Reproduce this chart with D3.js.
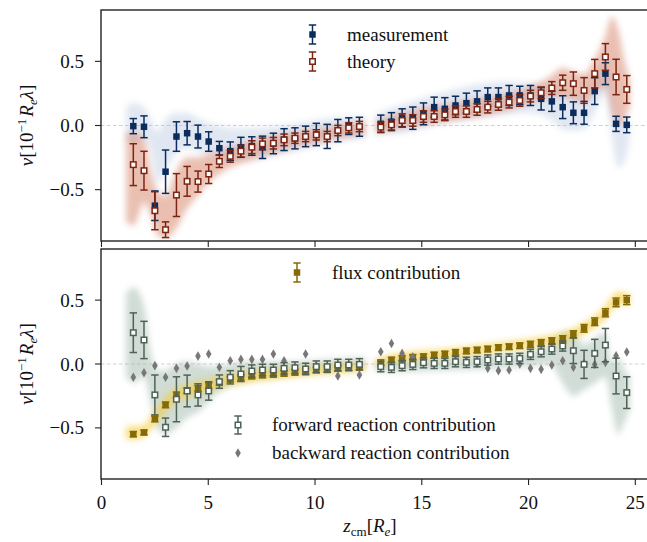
<!DOCTYPE html>
<html>
<head>
<meta charset="utf-8">
<script src="https://cdn.jsdelivr.net/npm/d3@7"></script>
<style>
  body { margin: 0; background: #fff; }
  svg { display: block; font-family: 'Liberation Serif', 'DejaVu Serif', serif; }
  .tick-label { font-size: 19px; fill: #111; }
  .legend-label { font-size: 19px; fill: #111; }
  .axis-label { font-size: 19px; fill: #111; }
</style>
</head>
<body>
<svg width="647" height="542"></svg>
<script>
const svg = d3.select('svg');

// bin centres along z_cm
const binZ = [1.49, 1.99, 2.50, 3.00, 3.51, 4.01, 4.52, 5.02, 5.52, 6.03, 6.53, 7.04, 7.54, 8.05, 8.55,
  9.06, 9.56, 10.06, 10.57, 11.07, 11.58, 12.08,
  13.08, 13.58, 14.08, 14.58, 15.08, 15.58, 16.08, 16.58, 17.09, 17.59, 18.09, 18.59, 19.09, 19.59,
  20.09, 20.59, 21.09, 21.60, 22.10, 22.60, 23.10, 23.60, 24.10, 24.60];

// top panel
const measurement = [-0.005, -0.01, -0.625, -0.36, -0.086, -0.06, -0.086, -0.125, -0.177, -0.20, -0.17,
  -0.16, -0.17, -0.14, -0.11, -0.10, -0.085, -0.07, -0.085, -0.04, -0.005, -0.01,
  0.013, 0.03, 0.06, 0.057, 0.091, 0.143, 0.13, 0.156, 0.174, 0.188, 0.221, 0.221, 0.234, 0.234,
  0.234, 0.208, 0.188, 0.143, 0.099, 0.099, 0.268, 0.404, 0.013, 0.005];
const measurementErr = [0.059, 0.085, 0.115, 0.169, 0.115, 0.091, 0.089, 0.076, 0.053, 0.072, 0.078,
  0.072, 0.087, 0.08, 0.085, 0.082, 0.08, 0.087, 0.094, 0.087, 0.065, 0.074,
  0.068, 0.07, 0.07, 0.087, 0.085, 0.078, 0.087, 0.072, 0.078, 0.082, 0.072, 0.072, 0.078, 0.072,
  0.078, 0.087, 0.078, 0.089, 0.085, 0.089, 0.104, 0.085, 0.059, 0.061];
const theory = [-0.305, -0.352, -0.664, -0.812, -0.542, -0.435, -0.437, -0.378, -0.279, -0.24, -0.2,
  -0.169, -0.143, -0.138, -0.112, -0.099, -0.086, -0.073, -0.086, -0.039, -0.018, -0.008,
  -0.013, 0.005, 0.039, 0.039, 0.07, 0.07, 0.083, 0.109, 0.109, 0.125, 0.143, 0.164, 0.182, 0.195,
  0.229, 0.255, 0.292, 0.333, 0.326, 0.273, 0.404, 0.534, 0.378, 0.281];
const theoryErr = [0.163, 0.151, 0.148, 0.061, 0.167, 0.116, 0.082, 0.074, 0.048, 0.046, 0.046,
  0.05, 0.045, 0.045, 0.045, 0.04, 0.04, 0.04, 0.04, 0.04, 0.04, 0.04,
  0.039, 0.04, 0.052, 0.045, 0.045, 0.045, 0.045, 0.045, 0.045, 0.045, 0.045, 0.045, 0.045, 0.045,
  0.045, 0.045, 0.05, 0.059, 0.091, 0.1, 0.111, 0.104, 0.138, 0.108];

// bottom panel
const flux = [-0.549, -0.536, -0.43, -0.32, -0.242, -0.208, -0.19, -0.169, -0.146, -0.12, -0.104,
  -0.094, -0.086, -0.081, -0.073, -0.065, -0.055, -0.047, -0.039, -0.034, -0.026, -0.021,
  0.01, 0.031, 0.044, 0.052, 0.057, 0.07, 0.078, 0.091, 0.102, 0.109, 0.117, 0.128, 0.135, 0.143,
  0.154, 0.167, 0.18, 0.195, 0.232, 0.279, 0.331, 0.401, 0.482, 0.5];
const fluxErr = [0.02, 0.018, 0.022, 0.022, 0.022, 0.022, 0.022, 0.022, 0.022, 0.022, 0.022,
  0.022, 0.022, 0.022, 0.022, 0.022, 0.022, 0.022, 0.022, 0.022, 0.022, 0.022,
  0.022, 0.022, 0.022, 0.022, 0.022, 0.022, 0.022, 0.022, 0.022, 0.022, 0.022, 0.022, 0.022, 0.022,
  0.024, 0.024, 0.025, 0.026, 0.028, 0.03, 0.03, 0.032, 0.034, 0.035];
const forward = [0.245, 0.188, -0.242, -0.495, -0.276, -0.211, -0.242, -0.211, -0.138, -0.104, -0.078,
  -0.055, -0.047, -0.047, -0.034, -0.029, -0.039, -0.021, -0.021, -0.008, -0.008, -0.003,
  -0.021, -0.026, -0.013, -0.003, 0.01, 0.005, 0.005, 0.018, 0.013, 0.018, 0.031, 0.039, 0.039, 0.044,
  0.076, 0.096, 0.117, 0.141, 0.104, -0.003, 0.083, 0.148, -0.094, -0.224];
const forwardErr = [0.155, 0.146, 0.156, 0.072, 0.176, 0.124, 0.087, 0.072, 0.052, 0.052, 0.059,
  0.048, 0.045, 0.045, 0.045, 0.045, 0.045, 0.045, 0.045, 0.045, 0.045, 0.045,
  0.04, 0.04, 0.04, 0.04, 0.04, 0.04, 0.04, 0.04, 0.04, 0.04, 0.04, 0.04, 0.04, 0.04,
  0.04, 0.04, 0.04, 0.04, 0.1, 0.11, 0.11, 0.13, 0.14, 0.124];
const backward = [-0.104, -0.068, -0.013, -0.104, -0.034, -0.016, 0.062, 0.078, -0.026, 0.026, 0.036,
  0.036, 0.036, 0.078, 0.026, -0.034, 0.078, -0.016, -0.034, -0.094, -0.021, -0.086,
  0.096, 0.161, 0.083, 0.057, 0.018, 0.005, 0.018, 0.026, 0.026, 0.005, -0.034, -0.052, -0.047, 0.0,
  -0.034, -0.042, -0.008, 0.026, -0.026, 0.005, -0.003, 0.013, 0.065, 0.094];

// sample clouds: lower / upper envelope at a coarse z grid (two segments)
const cloudZ = [[1.15, 1.5, 2.0, 2.3, 2.6, 3.0, 3.5, 4.0, 4.5, 5.0, 5.5, 6.0, 7.0, 8.0, 9.0, 10.0, 11.0, 12.35],
  [12.85, 14.0, 16.0, 18.0, 19.0, 20.0, 21.0, 21.6, 22.1, 22.6, 23.1, 23.6, 23.9, 24.2, 24.5, 24.75]];
const measCloudLo = [[-0.12, -0.14, -0.1, -0.2, -0.45, -0.35, -0.22, -0.18, -0.2, -0.22, -0.25, -0.27, -0.26, -0.24, -0.2, -0.16, -0.13, -0.09],
  [-0.07, -0.06, 0.02, 0.07, 0.09, 0.1, 0.05, -0.03, -0.04, -0.03, 0.1, 0.25, -0.1, -0.33, -0.28, -0.1]];
const measCloudHi = [[0.14, 0.18, 0.14, 0.05, -0.05, 0.05, 0.1, 0.1, 0.06, 0.02, 0.0, -0.02, -0.02, -0.01, 0.01, 0.04, 0.06, 0.07],
  [0.09, 0.16, 0.26, 0.33, 0.34, 0.33, 0.31, 0.28, 0.24, 0.24, 0.38, 0.48, 0.33, 0.08, 0.05, 0.05]];
const theoCloudLo = [[-0.75, -0.78, -0.6, -0.7, -0.85, -0.88, -0.8, -0.65, -0.55, -0.45, -0.38, -0.33, -0.27, -0.22, -0.17, -0.14, -0.1, -0.08],
  [-0.06, -0.02, 0.03, 0.08, 0.12, 0.17, 0.22, 0.22, 0.2, 0.18, 0.25, 0.3, 0.1, 0.0, 0.05, 0.15]];
const theoCloudHi = [[-0.05, -0.05, -0.1, -0.35, -0.5, -0.55, -0.35, -0.25, -0.25, -0.22, -0.2, -0.17, -0.12, -0.08, -0.05, -0.03, 0.0, 0.03],
  [0.04, 0.1, 0.16, 0.22, 0.25, 0.3, 0.38, 0.45, 0.42, 0.4, 0.52, 0.7, 0.85, 0.75, 0.5, 0.35]];
const fwdCloudLo = [[-0.1, -0.15, -0.1, -0.3, -0.5, -0.55, -0.5, -0.42, -0.38, -0.3, -0.22, -0.17, -0.12, -0.1, -0.08, -0.06, -0.05, -0.04],
  [-0.06, -0.06, -0.05, -0.04, -0.03, -0.02, 0.0, -0.15, -0.25, -0.2, -0.15, -0.1, -0.35, -0.55, -0.45, -0.35]];
const fwdCloudHi = [[0.55, 0.6, 0.45, 0.1, -0.05, -0.05, 0.0, 0.02, 0.0, -0.02, -0.02, 0.0, 0.02, 0.02, 0.02, 0.03, 0.04, 0.05],
  [0.03, 0.04, 0.05, 0.07, 0.08, 0.1, 0.15, 0.25, 0.25, 0.15, 0.2, 0.25, 0.0, 0.05, -0.05, -0.1]];
const fluxCloudLo = [[-0.59, -0.59, -0.57, -0.51, -0.46, -0.37, -0.3, -0.26, -0.24, -0.21, -0.19, -0.17, -0.14, -0.12, -0.1, -0.085, -0.07, -0.055],
  [-0.025, 0.015, 0.045, 0.085, 0.105, 0.125, 0.155, 0.165, 0.195, 0.235, 0.285, 0.355, 0.425, 0.465, 0.465, 0.465]];
const fluxCloudHi = [[-0.49, -0.49, -0.48, -0.41, -0.35, -0.26, -0.19, -0.16, -0.14, -0.12, -0.1, -0.08, -0.06, -0.04, -0.03, -0.015, -0.005, 0.005],
  [0.035, 0.085, 0.115, 0.155, 0.175, 0.195, 0.225, 0.245, 0.275, 0.325, 0.375, 0.455, 0.525, 0.565, 0.555, 0.545]];

const yTicks = [-0.5, 0.0, 0.5];
const xTicks = [0, 5, 10, 15, 20, 25];

const colors = {
  meas: '#0b2d5e', theo: '#7c2512', flux: '#866a06', fwd: '#4f6258', bwd: '#777777',
  measCloud: '#a3b7d8', theoCloud: '#d98c74', fluxCloud: '#f4cc3a', fwdCloud: '#98b2a4'
};

const plotLeft = 101;
const xScale = d3.scaleLinear().domain([0, 25]).range([101.5, 635.3]);
const panels = [
  { top: 10, bottom: 241 },
  { top: 249, bottom: 479 }
];

const defs = svg.append('defs');
defs.append('filter').attr('id', 'blur')
  .attr('x', '-20%').attr('y', '-20%').attr('width', '140%').attr('height', '140%')
  .append('feGaussianBlur').attr('stdDeviation', 3);

const fmt = d => d3.format('.1f')(d).replace('-', '\u2212');

const drawPanel = (p, idx) => {
  const yScale = d3.scaleLinear().domain([-0.9, 0.9]).range([p.bottom, p.top]);
  defs.append('clipPath').attr('id', `clip${idx}`)
    .append('rect').attr('x', plotLeft).attr('y', p.top)
    .attr('width', 647 - plotLeft).attr('height', p.bottom - p.top);

  const g = svg.append('g');
  const inner = g.append('g').attr('clip-path', `url(#clip${idx})`);

  // zero line
  inner.append('line')
    .attr('x1', plotLeft).attr('x2', 660)
    .attr('y1', yScale(0)).attr('y2', yScale(0))
    .attr('stroke', '#c4c4c4').attr('stroke-width', 0.8).attr('stroke-dasharray', '3.5,2.5');

  // x ticks below the frame
  g.selectAll('.xtick').data(xTicks).join('line')
    .attr('x1', d => xScale(d)).attr('x2', d => xScale(d))
    .attr('y1', p.bottom).attr('y2', p.bottom + 6)
    .attr('stroke', '#222').attr('stroke-width', 1.1);

  // y ticks and labels
  g.selectAll('.ytick').data(yTicks).join('line')
    .attr('x1', plotLeft - 6).attr('x2', plotLeft)
    .attr('y1', d => yScale(d)).attr('y2', d => yScale(d))
    .attr('stroke', '#222').attr('stroke-width', 1.1);
  g.selectAll('.ylab').data(yTicks).join('text')
    .attr('class', 'tick-label')
    .attr('x', 84).attr('y', d => yScale(d) + 6.5)
    .attr('text-anchor', 'end')
    .text(fmt);

  // y axis label
  const yl = g.append('text').attr('class', 'axis-label')
    .attr('transform', `translate(33,${(p.top + p.bottom) / 2}) rotate(-90)`)
    .attr('text-anchor', 'middle');
  yl.append('tspan').attr('font-style', 'italic').text('v');
  yl.append('tspan').text('[10');
  yl.append('tspan').attr('font-size', 13).attr('dy', -7).text('\u22121');
  yl.append('tspan').attr('font-style', 'italic').attr('dy', 7).attr('dx', 2).text('R');
  yl.append('tspan').attr('font-style', 'italic').attr('font-size', 13).attr('dy', 4).text('e');
  yl.append('tspan').attr('font-style', 'italic').attr('dy', -4).text('\u03bb');
  yl.append('tspan').text(']');

  // frame
  g.append('rect')
    .attr('x', plotLeft).attr('y', p.top)
    .attr('width', 660 - plotLeft).attr('height', p.bottom - p.top)
    .attr('fill', 'none').attr('stroke', '#222').attr('stroke-width', 1.4);

  return { g, inner, yScale };
};

const drawCloud = (inner, yScale, lo, hi, color, opacity) => {
  const area = d3.area()
    .x(d => xScale(d.z))
    .y0(d => yScale(d.lo))
    .y1(d => yScale(d.hi))
    .curve(d3.curveMonotoneX);
  cloudZ.forEach((zs, s) => {
    const pts = zs.map((z, i) => ({ z, lo: lo[s][i], hi: hi[s][i] }));
    inner.append('path')
      .attr('d', area(pts))
      .attr('fill', color)
      .attr('opacity', opacity)
      .attr('filter', 'url(#blur)');
  });
};

// one errorbar + marker at pixel position
const errorbarMark = (g, cx, cy, y1, y2, color, size, filled, cap) => {
  g.append('line').attr('x1', cx).attr('x2', cx).attr('y1', y1).attr('y2', y2)
    .attr('stroke', color).attr('stroke-width', 1.5);
  [y1, y2].forEach(yy => g.append('line')
    .attr('x1', cx - cap).attr('x2', cx + cap).attr('y1', yy).attr('y2', yy)
    .attr('stroke', color).attr('stroke-width', 1.5));
  if (filled) {
    g.append('rect').attr('x', cx - size / 2).attr('y', cy - size / 2)
      .attr('width', size).attr('height', size).attr('fill', color);
  } else {
    g.append('rect').attr('x', cx - size / 2 + 0.75).attr('y', cy - size / 2 + 0.75)
      .attr('width', size - 1.5).attr('height', size - 1.5)
      .attr('fill', '#fff').attr('stroke', color).attr('stroke-width', 1.5);
  }
};

const drawSeries = (g, yScale, vals, errs, color, size, filled, cap) => {
  vals.forEach((v, i) => {
    errorbarMark(g, xScale(binZ[i]), yScale(v), yScale(v + errs[i]), yScale(v - errs[i]),
      color, size, filled, cap);
  });
};

const diamond = (g, cx, cy, color) => {
  g.append('path')
    .attr('d', `M${cx},${cy - 4.8}L${cx + 2.8},${cy}L${cx},${cy + 4.8}L${cx - 2.8},${cy}Z`)
    .attr('fill', color);
};

const legendText = (g, x, y, label) => {
  g.append('text').attr('class', 'legend-label')
    .attr('x', x).attr('y', y + 6).text(label);
};

// ---- top panel
const topPanel = drawPanel(panels[0], 0);
drawCloud(topPanel.inner, topPanel.yScale, measCloudLo, measCloudHi, colors.measCloud, 0.32);
drawCloud(topPanel.inner, topPanel.yScale, theoCloudLo, theoCloudHi, colors.theoCloud, 0.55);
drawSeries(topPanel.inner, topPanel.yScale, measurement, measurementErr, colors.meas, 6.5, true, 3.7);
drawSeries(topPanel.inner, topPanel.yScale, theory, theoryErr, colors.theo, 7, false, 3.7);

errorbarMark(topPanel.g, 312.5, 34.5, 25, 44, colors.meas, 6.5, true, 3.7);
legendText(topPanel.g, 347, 34.5, 'measurement');
errorbarMark(topPanel.g, 312.5, 61.5, 52, 71, colors.theo, 7, false, 3.7);
legendText(topPanel.g, 347, 61.5, 'theory');

// ---- bottom panel
const botPanel = drawPanel(panels[1], 1);
drawCloud(botPanel.inner, botPanel.yScale, fwdCloudLo, fwdCloudHi, colors.fwdCloud, 0.45);
drawCloud(botPanel.inner, botPanel.yScale, fluxCloudLo, fluxCloudHi, colors.fluxCloud, 0.65);
drawSeries(botPanel.inner, botPanel.yScale, flux, fluxErr, colors.flux, 6.5, true, 3.7);
backward.forEach((v, i) => diamond(botPanel.inner, xScale(binZ[i]), botPanel.yScale(v), colors.bwd));
drawSeries(botPanel.inner, botPanel.yScale, forward, forwardErr, colors.fwd, 7, false, 3.7);

errorbarMark(botPanel.g, 297, 272.5, 263, 282, colors.flux, 6.5, true, 3.7);
legendText(botPanel.g, 332, 272.5, 'flux contribution');
errorbarMark(botPanel.g, 238, 425, 416, 434, colors.fwd, 7, false, 3.7);
legendText(botPanel.g, 272, 425, 'forward reaction contribution');
diamond(botPanel.g, 238, 453, colors.bwd);
legendText(botPanel.g, 272, 453, 'backward reaction contribution');

// x tick labels
svg.selectAll('.xlab').data(xTicks).join('text')
  .attr('class', 'tick-label')
  .attr('x', d => xScale(d)).attr('y', 509)
  .attr('text-anchor', 'middle')
  .text(d => d);

// x axis label
const xl = svg.append('text').attr('class', 'axis-label')
  .attr('x', 370).attr('y', 532).attr('text-anchor', 'middle');
xl.append('tspan').attr('font-style', 'italic').text('z');
xl.append('tspan').attr('font-size', 13).attr('dy', 4).text('cm');
xl.append('tspan').attr('dy', -4).text('[');
xl.append('tspan').attr('font-style', 'italic').text('R');
xl.append('tspan').attr('font-style', 'italic').attr('font-size', 13).attr('dy', 4).text('e');
xl.append('tspan').attr('dy', -4).text(']');
</script>
</body>
</html>
